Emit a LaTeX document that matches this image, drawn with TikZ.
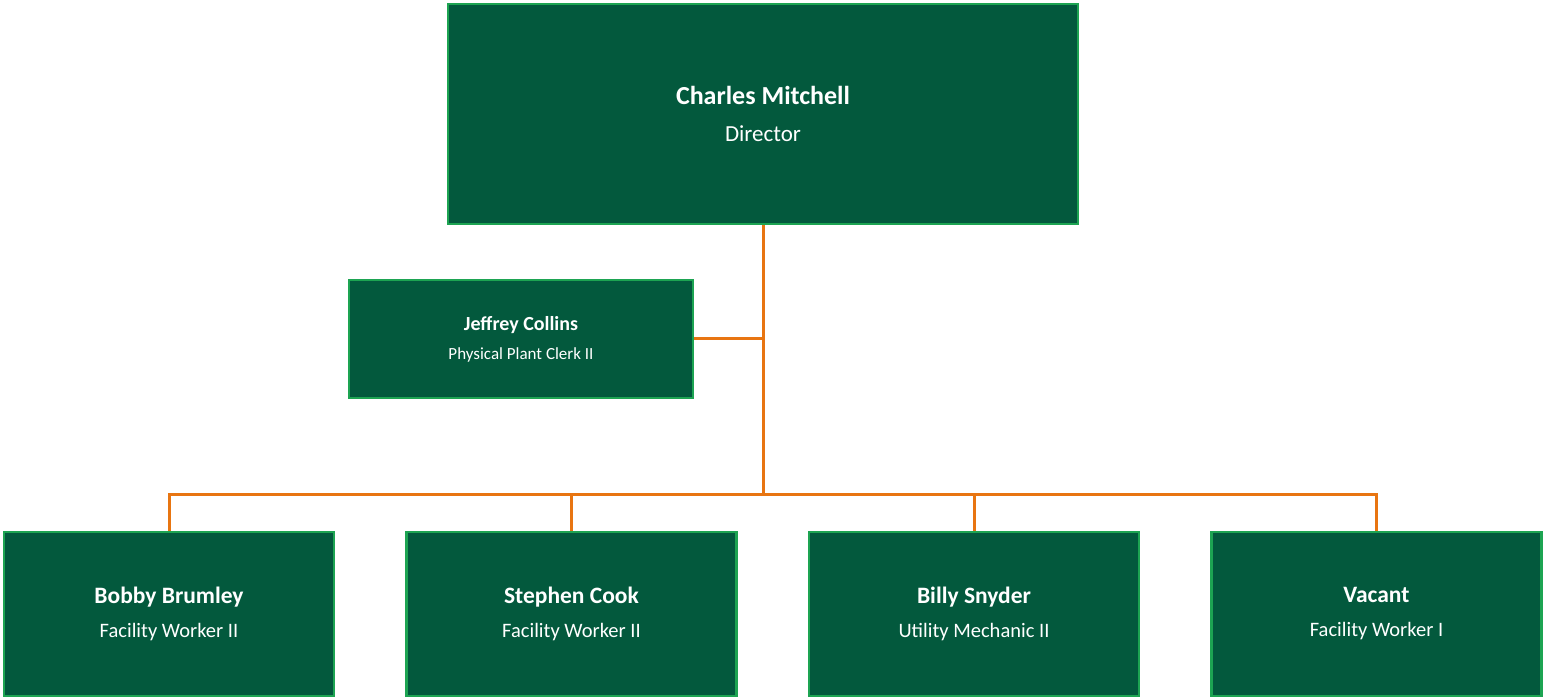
\documentclass[tikz,border=0pt]{standalone}
\usepackage{fontspec}
\setmainfont{Carlito}
\usetikzlibrary{positioning}
\definecolor{boxgreen}{HTML}{03593D}
\definecolor{edgegreen}{HTML}{1DA452}
\definecolor{lineorange}{HTML}{E87511}

\begin{document}
\begin{tikzpicture}[x=1pt, y=-1pt,
  person/.style={draw=edgegreen, fill=boxgreen, line width=2.5pt, text=white,
    align=center, inner sep=0pt, minimum width=330pt, minimum height=164pt,
    font=\fontsize{20.5}{34}\selectfont},
  link/.style={draw=lineorange, line width=3pt}]
\useasboundingbox (0,0) rectangle (1543,700);
% Boxes
\node[person, minimum width=630pt, minimum height=220pt,
  font=\fontsize{23}{37}\selectfont] (director) at (763,114)
  {{\fontsize{26}{37}\selectfont\bfseries Charles Mitchell}\\Director};
\node[person, minimum width=344pt, minimum height=118pt,
  font=\fontsize{17}{29}\selectfont] (clerk) at (521,339)
  {{\fontsize{20}{29}\selectfont\bfseries Jeffrey Collins}\\Physical Plant Clerk II};
\node[person] (brumley) at (169,614)
  {{\fontsize{23.5}{34}\selectfont\bfseries Bobby Brumley}\\Facility Worker II};
\node[person, right=70pt of brumley] (cook)
  {{\fontsize{23.5}{34}\selectfont\bfseries Stephen Cook}\\Facility Worker II};
\node[person, right=70pt of cook] (snyder)
  {{\fontsize{23.5}{34}\selectfont\bfseries Billy Snyder}\\Utility Mechanic II};
\node[person, right=70pt of snyder] (vacant)
  {{\fontsize{23.5}{34}\selectfont\bfseries Vacant}\\Facility Worker I};
% Lines
\coordinate (bus) at (763,495);
\draw[link] (director.south) -- (bus);
\draw[link] (clerk.east) -- (clerk.east -| director.south);
\draw[link] (brumley.north) |- (bus) -| (vacant.north);
\draw[link] (cook.north) -- (cook.north |- bus);
\draw[link] (snyder.north) -- (snyder.north |- bus);
\end{tikzpicture}
\end{document}
